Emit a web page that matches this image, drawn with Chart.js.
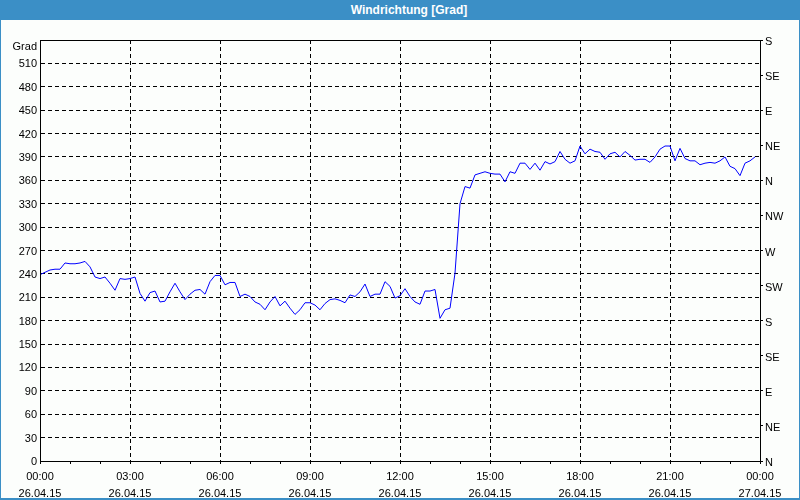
<!DOCTYPE html>
<html><head><meta charset="utf-8">
<script src="https://cdn.jsdelivr.net/npm/chart.js@4"></script>
<style>
html,body{margin:0;padding:0;background:#fcfefc;}
#wrap{position:relative;width:800px;height:500px;overflow:hidden;background:#fcfefc;}
#bar{position:absolute;left:0;top:0;width:782px;padding-left:18px;height:20px;background:#3b8fc6;color:#fff;font:bold 12px "Liberation Sans",Arial,sans-serif;line-height:20px;text-align:center;}
#frame{position:absolute;left:0;top:0;width:798px;height:497px;border:1px solid #3b8fc6;border-bottom-width:2px;pointer-events:none;}
canvas{position:absolute;left:0;top:0;}
</style></head>
<body><div id="wrap"><canvas id="c" width="800" height="500"></canvas><div id="bar">Windrichtung [Grad]</div><div id="frame"></div></div>
<script>
// ---- data (10-minute readings, 26.04.15 00:00 .. 23:50) ----
const intervalMinutes = 10;
const windDirection = [
 239,242,245,246,246,254,253,253,254,256, 249,236,234,236,228,219,234,233,234,236,
 215,205,216,218,204,205,217,228,217,207, 214,219,220,214,230,238,238,226,229,229,
 211,214,211,204,201,194,204,211,199,205, 196,188,194,203,203,200,194,202,207,208,
 206,203,213,211,217,227,211,214,214,230, 224,209,212,221,211,204,201,218,218,220,
 183,194,196,241,330,352,350,367,369,371, 369,368,368,358,371,369,382,382,374,382,
 373,384,381,384,397,387,382,385,404,394, 400,397,396,387,394,396,390,397,392,386,
 387,387,383,390,400,404,404,385,401,388, 385,385,380,382,383,382,385,390,378,375,
 366,382,385,390
];
const timeLabels = ["00:00","03:00","06:00","09:00","12:00","15:00","18:00","21:00","00:00"];
const dateLabels = ["26.04.15","26.04.15","26.04.15","26.04.15","26.04.15","26.04.15","26.04.15","26.04.15","27.04.15"];
const compassLabels = ["N","NE","E","SE","S","SW","W","NW","N","NE","E","SE","S"];
const yUnitLabel = "Grad";

const FONT = {family:'"Liberation Sans", Arial, sans-serif', size:11};

const framePlugin = {
  id:'frame',
  afterDraw(chart){
    const {ctx, chartArea:a} = chart;
    ctx.save();
    ctx.strokeStyle = '#000'; ctx.lineWidth = 1;
    ctx.strokeRect(Math.round(a.left)+0.5, Math.round(a.top)+0.5, Math.round(a.right-a.left), Math.round(a.bottom-a.top));
    ctx.fillStyle = '#000';
    ctx.font = '11px "Liberation Sans", Arial, sans-serif';
    ctx.textAlign = 'right'; ctx.textBaseline = 'middle';
    ctx.fillText(yUnitLabel, a.left - 3, a.top + 7);
    ctx.restore();
  }
};

new Chart(document.getElementById('c'), {
  type:'line',
  data:{datasets:[{
    data: windDirection.map((v,i)=>({x:i*intervalMinutes, y:v})),
    borderColor:'#0000ff', borderWidth:1, pointRadius:0, tension:0, fill:false
  }]},
  options:{
    responsive:false, animation:false, devicePixelRatio:1,
    layout:{padding:{top:40,left:0,right:0,bottom:0}},
    plugins:{legend:{display:false}, tooltip:{enabled:false}, title:{display:false}},
    scales:{
      x:{type:'linear', position:'bottom', min:0, max:1440,
        afterFit(s){ s.height = 39; },
        ticks:{stepSize:60, autoSkip:false, maxRotation:0, minRotation:0, color:'#000', font:{...FONT, lineHeight:1.55}, padding:4,
          callback(v){ if (v % 180 !== 0) return ''; const k = v/180; return [timeLabels[k], dateLabels[k]]; }},
        grid:{color(c){ return (c.tick && c.tick.value % 180 === 0) ? '#000' : 'rgba(0,0,0,0)'; },
          tickColor:'#000', tickLength:3, drawTicks:true, tickBorderDash:[]},
        border:{display:true, color:'#000', dash:[4,3]}
      },
      y:{type:'linear', position:'left', min:0, max:540,
        afterFit(s){ s.width = 40; },
        ticks:{stepSize:30, color:'#000', font:FONT, padding:3, labelOffset:1, callback(v){ return v===540 ? '' : v; }},
        grid:{color:'#000', drawTicks:false},
        border:{display:true, color:'#000', dash:[4,3]}
      },
      y2:{type:'linear', position:'right', min:0, max:540,
        afterFit(s){ s.width = 40; },
        ticks:{stepSize:45, color:'#000', font:FONT, padding:2, labelOffset:2, callback(v){ return compassLabels[Math.round(v/45)]; }},
        grid:{drawOnChartArea:false, drawTicks:true, tickLength:3, tickColor:'#000'},
        border:{display:true, color:'#000'}
      }
    }
  },
  plugins:[framePlugin]
});
</script>
</body></html>
